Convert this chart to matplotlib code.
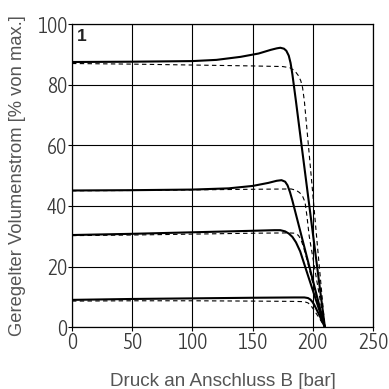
import matplotlib
matplotlib.use("Agg")
import matplotlib.pyplot as plt
from matplotlib import font_manager as fm

# Flow curves: pressure at port B [bar] vs. regulated flow [% of max]
s1_x = [0, 50, 100, 120, 140, 155, 165, 170, 173, 176, 178, 180, 181.5, 183, 186, 190, 195, 200, 205, 210]
s1_y = [87.5, 87.6, 87.8, 88.2, 89.2, 90.3, 91.5, 92.0, 92.2, 91.9, 91.2, 89.6, 87.2, 83.5, 74.5, 62, 46.5, 31, 15.5, 0]
d1_x = [0, 50, 100, 150, 175, 181, 185, 188, 190, 191.5, 193, 198.5, 204, 210]
d1_y = [87, 86.8, 86.5, 86.2, 86.0, 85.6, 84.6, 83.0, 81.3, 79.0, 74.5, 50.5, 26, 0]

s2_x = [0, 50, 100, 130, 150, 163, 170, 174, 177, 179, 181, 183, 190, 200, 210]
s2_y = [45.1, 45.2, 45.4, 45.8, 46.6, 47.6, 48.3, 48.5, 48.0, 46.8, 44.6, 41.8, 31, 15.5, 0]
d2_x = [0, 50, 100, 150, 182, 186, 189, 191.5, 193.5, 195, 197, 203, 210]
d2_y = [45, 45.1, 45.3, 45.5, 45.6, 45.2, 44.4, 43.2, 41.3, 37, 30, 16, 0]

s3_x = [0, 50, 100, 150, 168, 173, 177, 180, 183, 186, 189.5, 196, 203, 210]
s3_y = [30.4, 30.8, 31.3, 31.8, 32.0, 32.0, 31.6, 30.9, 29.8, 28.0, 25.0, 17, 8.5, 0]
d3_x = [0, 50, 100, 150, 180, 185, 188, 190, 192, 195, 200, 205, 210]
d3_y = [30.2, 30.4, 30.7, 31.0, 31.1, 31.0, 30.3, 29.0, 26.8, 22.5, 14.5, 7, 0]

s4_x = [0, 50, 100, 150, 185, 193, 196, 198, 199.5, 201, 205, 210]
s4_y = [9.0, 9.3, 9.5, 9.7, 9.8, 9.8, 9.6, 9.1, 8.4, 7.5, 4.3, 0]
d4_x = [0, 50, 100, 150, 185, 193, 196, 198, 200, 205, 210]
d4_y = [8.6, 8.7, 8.7, 8.6, 8.5, 8.4, 8.0, 7.3, 6.2, 3.2, 0]

x_ticks = [0, 50, 100, 150, 200, 250]
y_ticks = [0, 20, 40, 60, 80, 100]


def narrow_font():
    # the reference ticks use a thin condensed face; take one if the system has it
    best = None
    for f in fm.fontManager.ttflist:
        tag = (f.name + " " + f.fname).lower()
        if f.style != 'normal' or not any(k in tag for k in ('condensed', 'narrow')):
            continue
        if 'extra' in tag or 'ultra' in tag or 'semi' in tag:
            continue
        w = f.weight if isinstance(f.weight, int) else 400
        score = abs(w - 300)
        if best is None or score < best[0]:
            best = (score, f.fname)
    if best:
        return fm.FontProperties(fname=best[1], size=15.5)
    return fm.FontProperties(family=['Roboto', 'DejaVu Sans'], weight='light', size=12.5)


tick_fp = narrow_font()
label_font = ['Liberation Sans', 'DejaVu Sans']

fig = plt.figure(figsize=(3.89, 3.89), dpi=100)
ax = fig.add_axes([0.185, 0.159, 0.774, 0.779])

solid = dict(color='black', lw=1.5, solid_joinstyle='round', solid_capstyle='round', zorder=4)
dashed = dict(color='black', lw=0.8, ls=(0, (4, 3)), zorder=3)
for xs, ys in [(s1_x, s1_y), (s2_x, s2_y), (s3_x, s3_y), (s4_x, s4_y)]:
    ax.plot(xs, ys, **solid)
for xs, ys in [(d1_x, d1_y), (d2_x, d2_y), (d3_x, d3_y), (d4_x, d4_y)]:
    ax.plot(xs, ys, **dashed)

ax.set_xlim(0, 250); ax.set_ylim(0, 100)
ax.set_xticks(x_ticks); ax.set_yticks(y_ticks)
ax.grid(True, color='black', lw=0.8)
ax.set_axisbelow(True)
for sp in ax.spines.values():
    sp.set_linewidth(0.9)
ax.tick_params(length=3, width=0.8, pad=0.3, labelcolor='#3a3a3a')
for lab in ax.get_xticklabels() + ax.get_yticklabels():
    lab.set_fontproperties(tick_fp)

ax.set_xlabel("Druck an Anschluss B [bar]", family=label_font, fontsize=13.6,
              color='#555555', labelpad=14)
ax.set_ylabel("Geregelter Volumenstrom [% von max.]", family=label_font, fontsize=13.2,
              color='#555555', labelpad=8)
ax.text(8, 96, "1", family=label_font, fontsize=12.5, fontweight='bold',
        color='#222222', ha='center', va='center')

plt.savefig("out.png", dpi=100)
